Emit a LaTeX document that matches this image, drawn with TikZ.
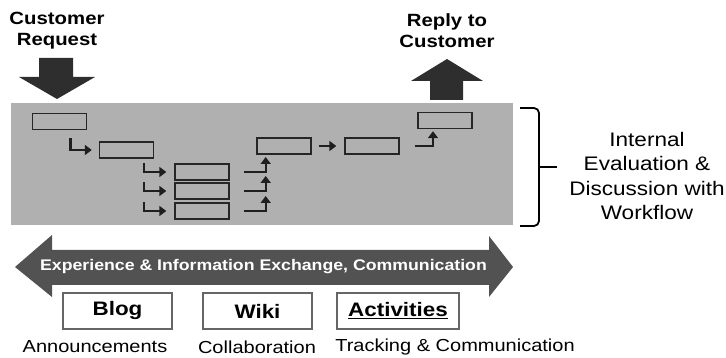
\documentclass[tikz,border=0pt]{standalone}
\usepackage{fontspec}
\setmainfont{Liberation Sans}[FakeStretch=1.15]
\usetikzlibrary{arrows.meta,calc}
\begin{document}
\begin{tikzpicture}[x=1pt,y=-1pt,
  box/.style={draw=black!85,line width=1.4pt,minimum width=54pt,minimum height=16pt,inner sep=0pt},
  flow/.style={draw=black!88,line width=2.1pt,-{Triangle[length=7pt,width=10pt]}},
  toolbox/.style={draw=black!60,line width=1.4pt,fill=white,minimum width=109pt,minimum height=36pt,inner sep=0pt,font=\fontsize{19.5}{22}\selectfont\bfseries},
  lbl/.style={font=\fontsize{17.4}{20}\selectfont,inner sep=0pt},
  head/.style={font=\fontsize{17.7}{21}\selectfont\bfseries,align=center,inner sep=0pt},
  bigarrow/.style={fill=black!82,draw=none}]
\useasboundingbox (0,0) rectangle (726,358);
% gray band
\node[fill=black!31,minimum width=502pt,minimum height=122pt,inner sep=0pt] (band) at (262,164) {};
% top labels and big arrows
\node[head] (req) at (57,31) {Customer\\Request};
\node[head] (rep) at (447,31) {Reply to\\Customer};
\fill[bigarrow] (39,58) -- (73,58) -- (73,77) -- (95,77) -- (57,99) -- (19,77) -- (39,77) -- cycle;
\fill[bigarrow] (430,100) -- (463,100) -- (463,81) -- (483,81) -- (447,59) -- (411,81) -- (430,81) -- cycle;
% workflow boxes
\node[box] (b1) at (59.5,121.5) {};
\node[box] (b2) at (126.5,150) {};
\node[box] (b3a) at (202,172) {};
\node[box] (b3b) at (202,191) {};
\node[box] (b3c) at (202,211) {};
\node[box] (b4) at (284,146) {};
\node[box] (b5) at (372,146) {};
\node[box] (b6) at (445,120.5) {};
% workflow arrows
\draw[flow] ($(b1.south)+(11,8)$) |- ([xshift=-7pt]b2.west);
\foreach \b in {b3a,b3b,b3c}{
  \draw[flow] ($(\b.west)+(-30,-9)$) |- ([xshift=-8pt]\b.west);
  \draw[flow] ([xshift=14pt]\b.east) -- ++(22,0) -- ++(0,-15);
}
\draw[flow] ([xshift=7pt]b4.east) -- ([xshift=-8pt]b5.west);
\draw[flow] ([xshift=15pt]b5.east) -| ($(b6.south)+(-12,2)$);
% brace
\draw[line width=1.8pt,rounded corners=5pt] (520,108) -- (539,108) -- (539,226) -- (520,226);
\draw[line width=1.8pt] (539,167) -- (557,167);
\node[font=\fontsize{19.6}{24.5}\selectfont,align=center,inner sep=0pt] (int) at (647,176) {Internal\\Evaluation \&\\Discussion with\\Workflow};
% double arrow
\fill[black!68] (15,267) -- (52,235) -- (52,250) -- (489,250) -- (489,236) -- (513,267) -- (489,297) -- (489,285) -- (52,285) -- (52,297) -- cycle;
\node[font=\fontsize{15.4}{18}\selectfont\bfseries,text=white] (ex) at (263.5,267) {Experience \& Information Exchange, Communication};
% tool boxes
\node[toolbox] (blog) at (117.5,311) {Blog};
\node[toolbox] (wiki) at (257.5,311) {Wiki};
\node[toolbox,minimum width=122pt] (act) at (398,311) {\underline{Activities}};
\node[lbl] (ann) at (95,347) {Announcements};
\node[lbl] (col) at (257,347) {Collaboration};
\node[lbl] (trk) at (455,347) {Tracking \& Communication};
\end{tikzpicture}
\end{document}
